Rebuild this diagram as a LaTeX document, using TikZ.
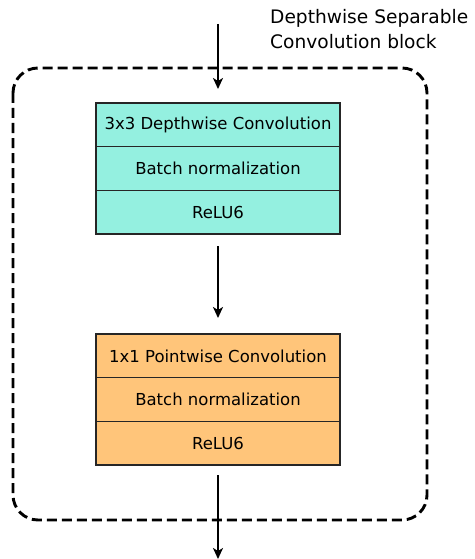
\documentclass[tikz,border=0pt]{standalone}
\usepackage{fontspec}
\setmainfont{DejaVu Sans}
\usetikzlibrary{arrows.meta,positioning}

\definecolor{dwcol}{HTML}{94F0E0}
\definecolor{pwcol}{HTML}{FFC57A}

\tikzset{
  layer/.style={draw=black!85,line width=1.3pt,minimum width=244pt,minimum height=43.7pt,
    inner sep=0pt,outer sep=0pt,font=\fontsize{16.5}{18}\selectfont},
  flow/.style={line width=1.8pt,-{Stealth[length=11pt,width=10pt,inset=3pt]}},
}

\begin{document}
\begin{tikzpicture}[x=1pt,y=-1pt]
\useasboundingbox (0,0) rectangle (474,559);
% block outline
\draw[line width=2.9pt,dash pattern=on 10pt off 5pt,rounded corners=25pt] (13,68) rectangle (427,520);
\node[anchor=north west,align=left,inner sep=0pt,font=\fontsize{18.6}{25}\selectfont] (title) at (270,9)
  {Depthwise Separable\\Convolution block};

% depthwise part
\node[layer,fill=dwcol,anchor=north] (dconv) at (218,103) {3x3 Depthwise Convolution};
\node[layer,fill=dwcol,below=0pt of dconv] (dbn) {Batch normalization};
\node[layer,fill=dwcol,below=0pt of dbn] (drelu) {ReLU6};

% pointwise part
\node[layer,fill=pwcol,anchor=north] (pconv) at (218,334) {1x1 Pointwise Convolution};
\node[layer,fill=pwcol,below=0pt of pconv] (pbn) {Batch normalization};
\node[layer,fill=pwcol,below=0pt of pbn] (prelu) {ReLU6};

\coordinate (in) at (218,24);
\coordinate (out) at (218,559);
\draw[flow] (in) -- ([yshift=14pt]dconv.north);
\draw[flow] ([yshift=-12pt]drelu.south) -- ([yshift=16pt]pconv.north);
\draw[flow] ([yshift=-10pt]prelu.south) -- (out);
\end{tikzpicture}
\end{document}
